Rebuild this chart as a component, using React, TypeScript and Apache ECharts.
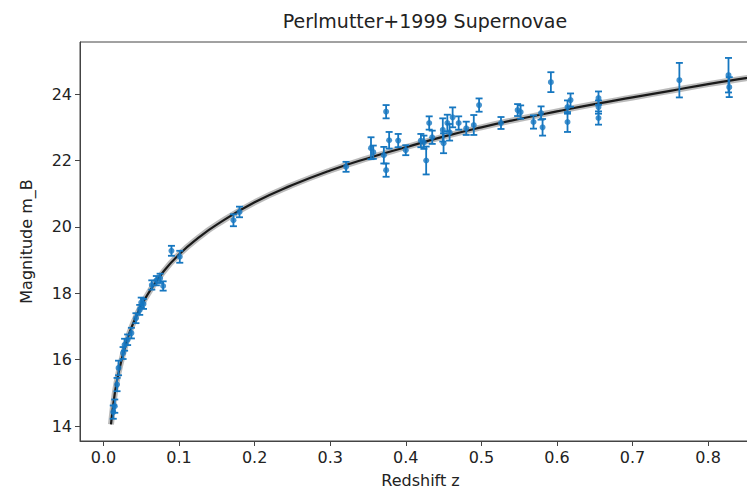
import React, { useEffect, useRef } from "react";
import * as echarts from "echarts";

// Observed supernovae (redshift z, effective magnitude m_B, 1-sigma error)
const snZ = [
  0.013, 0.015, 0.018, 0.020, 0.026, 0.028, 0.032, 0.037, 0.043, 0.048, 0.050, 0.053,
  0.064, 0.070, 0.075, 0.079, 0.090, 0.101,
  0.172, 0.180, 0.321, 0.354, 0.357, 0.371, 0.374, 0.374, 0.378, 0.390, 0.400,
  0.420, 0.424, 0.427, 0.431, 0.435, 0.449, 0.450, 0.455, 0.458, 0.462, 0.470,
  0.480, 0.490, 0.497, 0.526, 0.548, 0.552, 0.569, 0.579, 0.581, 0.592,
  0.614, 0.614, 0.618, 0.655, 0.655, 0.655, 0.762, 0.827, 0.828,
];
const snMag = [
  14.42, 14.6, 15.25, 15.75, 16.2, 16.45, 16.6, 16.8, 17.25, 17.5, 17.72, 17.68,
  18.25, 18.38, 18.45, 18.22, 19.28, 19.1,
  20.2, 20.45, 21.81, 22.37, 22.25, 22.16, 23.47, 21.71, 22.61, 22.6, 22.31,
  22.6, 22.55, 22.0, 23.13, 22.7, 22.92, 22.52, 23.13, 22.85, 23.3, 23.13,
  22.97, 23.07, 23.67, 23.13, 23.52, 23.46, 23.16, 23.43, 23.0, 24.36,
  23.61, 23.16, 23.82, 23.61, 23.28, 23.88, 24.42, 24.57, 24.21,
];
const snErr = [
  0.2, 0.2, 0.2, 0.22, 0.18, 0.18, 0.16, 0.16, 0.15, 0.15, 0.15, 0.15,
  0.14, 0.14, 0.14, 0.14, 0.15, 0.18,
  0.18, 0.16, 0.15, 0.33, 0.2, 0.25, 0.2, 0.2, 0.25, 0.2, 0.15,
  0.2, 0.2, 0.42, 0.2, 0.2, 0.35, 0.3, 0.25, 0.25, 0.3, 0.2,
  0.2, 0.3, 0.2, 0.18, 0.18, 0.2, 0.2, 0.2, 0.25, 0.3,
  0.2, 0.3, 0.2, 0.2, 0.2, 0.2, 0.52, 0.52, 0.3,
];

// Best-fit model curve
const modelZ = [
  0.01, 0.015, 0.02, 0.03, 0.04, 0.05, 0.06, 0.08, 0.1, 0.125, 0.15, 0.2, 0.25, 0.3,
  0.35, 0.4, 0.45, 0.5, 0.55, 0.6, 0.65, 0.7, 0.75, 0.8, 0.85, 0.87,
];
const modelMag = [
  14.05, 14.98, 15.6, 16.5, 17.13, 17.62, 18.02, 18.67, 19.17, 19.66, 20.07, 20.74, 21.26, 21.7,
  22.07, 22.4, 22.72, 23.0, 23.25, 23.48, 23.7, 23.9, 24.1, 24.3, 24.48, 24.55,
];

const xTicks = [0, 0.1, 0.2, 0.3, 0.4, 0.5, 0.6, 0.7, 0.8];
const yTicks = [14, 16, 18, 20, 22, 24];

const BLUE = "#1677c0";
const FONT = "DejaVu Sans";

export default function App() {
  const ref = useRef<HTMLDivElement>(null);

  useEffect(() => {
    if (!ref.current) return;
    const chart = echarts.init(ref.current, null, { renderer: "svg" });
    const points = snZ.map((z, i) => [z, snMag[i], snErr[i]]);
    const model = modelZ.map((z, i) => [z, modelMag[i]]);

    chart.setOption({
      animation: false,
      backgroundColor: "#ffffff",
      title: {
        text: "Perlmutter+1999 Supernovae",
        left: 420,
        textAlign: "center",
        top: 6,
        textStyle: { fontFamily: FONT, fontSize: 19, fontWeight: "normal", color: "#222" },
      },
      grid: {
        left: 80,
        top: 42,
        width: 681,
        height: 399,
        outerBoundsMode: "none",
        containLabel: false,
        show: true,
        borderColor: "#444",
        borderWidth: 1,
        backgroundColor: "transparent",
      },
      xAxis: {
        type: "value",
        min: -0.031,
        max: 0.87,
        name: "Redshift z",
        nameLocation: "middle",
        nameGap: 31,
        nameTextStyle: { fontFamily: FONT, fontSize: 16, color: "#222" },
        splitLine: { show: false },
        axisLine: { show: true, onZero: false, lineStyle: { color: "#444", width: 1 } },
        axisTick: { show: true, length: 5, customValues: xTicks, lineStyle: { color: "#444" } },
        axisLabel: {
          customValues: xTicks,
          margin: 8,
          fontFamily: FONT,
          fontSize: 16,
          color: "#222",
          formatter: (v: number) => v.toFixed(1),
        },
      },
      yAxis: {
        type: "value",
        min: 13.55,
        max: 25.57,
        name: "Magnitude m_B",
        nameLocation: "middle",
        nameGap: 46,
        nameRotate: 90,
        nameTextStyle: { fontFamily: FONT, fontSize: 16, color: "#222" },
        splitLine: { show: false },
        axisLine: { show: true, onZero: false, lineStyle: { color: "#444", width: 1 } },
        axisTick: { show: true, length: 5, customValues: yTicks, lineStyle: { color: "#444" } },
        axisLabel: {
          customValues: yTicks,
          margin: 8,
          fontFamily: FONT,
          fontSize: 16,
          color: "#222",
          formatter: (v: number) => String(Math.round(v)),
        },
      },
      series: [
        {
          type: "line",
          data: model,
          smooth: true,
          showSymbol: false,
          lineStyle: { color: "#777", width: 6, opacity: 0.5 },
          z: 2,
        },
        {
          type: "line",
          data: model,
          smooth: true,
          showSymbol: false,
          lineStyle: { color: "#1a1a1a", width: 2.2 },
          z: 3,
        },
        {
          type: "custom",
          data: points,
          z: 4,
          renderItem: (params: any, api: any) => {
            const x = api.value(0);
            const y = api.value(1);
            const e = api.value(2);
            const top = api.coord([x, y + e]);
            const bot = api.coord([x, y - e]);
            const cap = 3.5;
            const style = { stroke: BLUE, lineWidth: 1.8 };
            return {
              type: "group",
              children: [
                { type: "line", shape: { x1: top[0], y1: top[1], x2: bot[0], y2: bot[1] }, style },
                { type: "line", shape: { x1: top[0] - cap, y1: top[1], x2: top[0] + cap, y2: top[1] }, style },
                { type: "line", shape: { x1: bot[0] - cap, y1: bot[1], x2: bot[0] + cap, y2: bot[1] }, style },
              ],
            };
          },
        },
        {
          type: "scatter",
          data: points.map((p) => [p[0], p[1]]),
          symbol: "circle",
          symbolSize: 6,
          itemStyle: { color: BLUE },
          z: 5,
        },
      ],
    });

    return () => chart.dispose();
  }, []);

  return (
    <div
      ref={ref}
      style={{ position: "fixed", left: 0, top: 0, width: 747, height: 490, background: "#fff" }}
    />
  );
}
